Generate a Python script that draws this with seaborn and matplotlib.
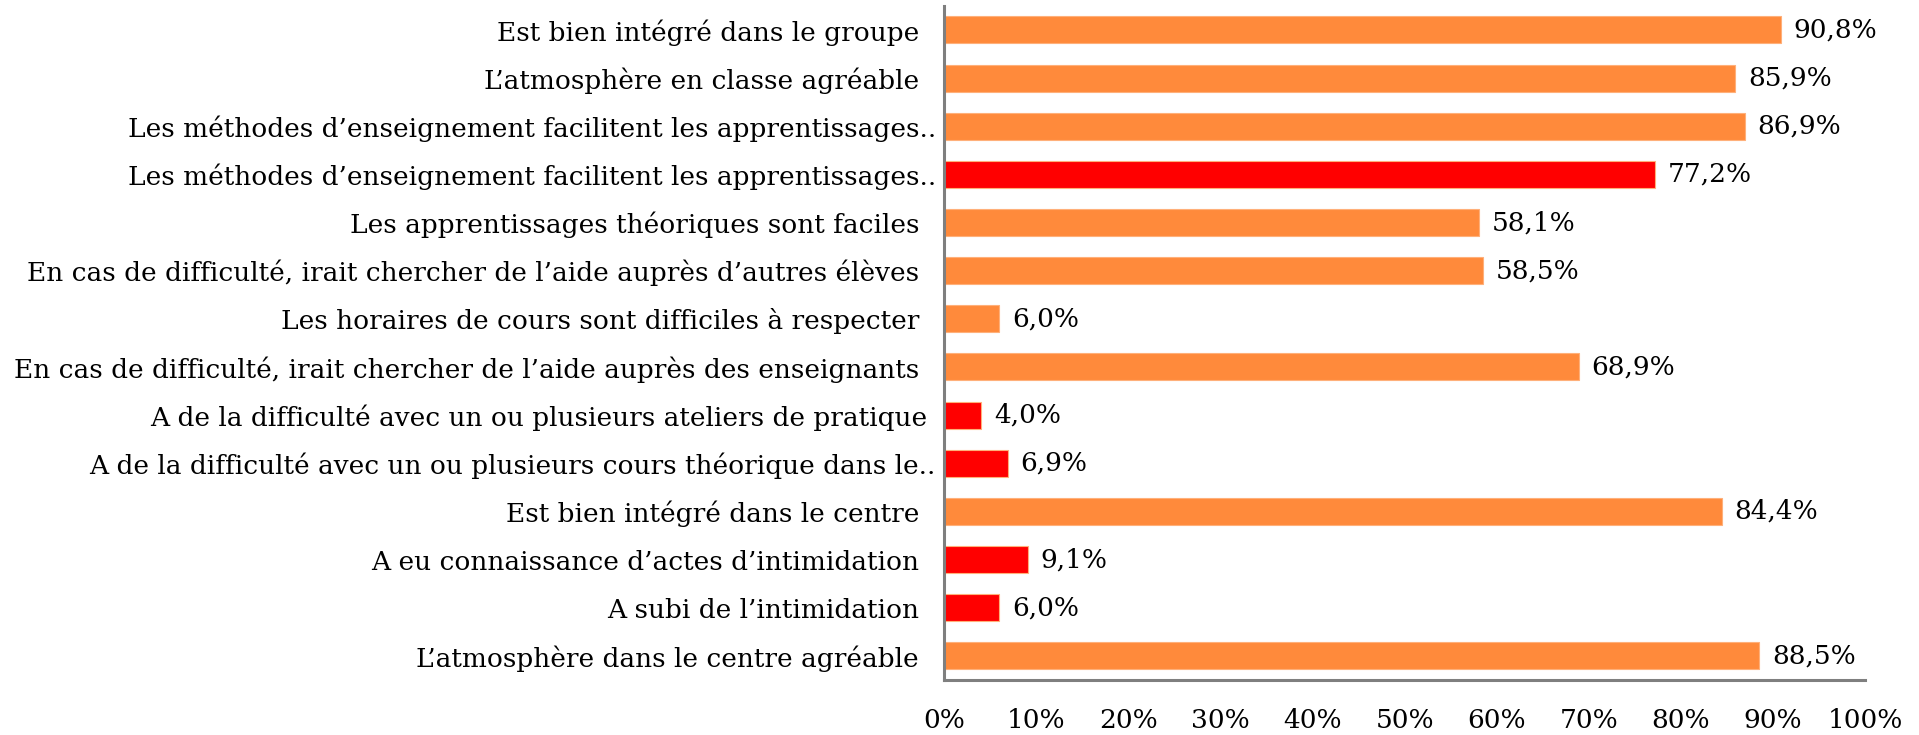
import matplotlib.pyplot as plt
import pandas as pd
import seaborn as sns

# --- data (top to bottom) ---
ITEMS = [
    "Est bien intégré dans le groupe  ",
    "L’atmosphère en classe agréable  ",
    "Les méthodes d’enseignement facilitent les apprentissages..",
    "Les méthodes d’enseignement facilitent les apprentissages..",
    "Les apprentissages théoriques sont faciles  ",
    "En cas de difficulté, irait chercher de l’aide auprès d’autres élèves  ",
    "Les horaires de cours sont difficiles à respecter  ",
    "En cas de difficulté, irait chercher de l’aide auprès des enseignants  ",
    "A de la difficulté avec un ou plusieurs ateliers de pratique ",
    "A de la difficulté avec un ou plusieurs cours théorique dans le..",
    "Est bien intégré dans le centre  ",
    "A eu connaissance d’actes d’intimidation  ",
    "A subi de l’intimidation  ",
    "L’atmosphère dans le centre agréable  ",
]
VALUES = [90.8, 85.9, 86.9, 77.2, 58.1, 58.5, 6.0, 68.9, 4.0, 6.9, 84.4, 9.1, 6.0, 88.5]
GROUP = ["pos", "pos", "pos", "neg", "pos", "pos", "pos", "pos",
         "neg", "neg", "pos", "neg", "neg", "pos"]
XTICKS = [0, 10, 20, 30, 40, 50, 60, 70, 80, 90, 100]

colors = {"pos": "#FF8A3B", "neg": "#FF0000"}
spine_color = "#7F7F7F"
fs = 19

sns.set_style("white")
plt.rcParams["font.family"] = ["DejaVu Serif"]
plt.rcParams["text.color"] = "black"
plt.rcParams["xtick.color"] = "black"
plt.rcParams["ytick.color"] = "black"

df = pd.DataFrame({"pos": range(len(VALUES)), "value": VALUES, "group": GROUP})

fig = plt.figure(figsize=(19.19, 7.35), dpi=100)
ax = fig.add_axes([0.492, 0.075, 0.480, 0.917])

sns.barplot(
    data=df,
    x="value",
    y="pos",
    hue="group",
    palette=colors,
    saturation=1,
    orient="h",
    dodge=False,
    legend=False,
    width=0.56,
    edgecolor="#FFB07A",
    linewidth=0.8,
    ax=ax,
)

# value labels
for p, v in zip(df["pos"], df["value"]):
    ax.text(v + 1.4, p, f"{v:.1f}".replace(".", ",") + "%",
            va="center", ha="left", fontsize=fs, color="black")

ax.set_xlim(0, 100)
ax.set_ylim(13.5, -0.5)
ax.set_xticks(XTICKS)
ax.set_xticklabels([f"{t}%" for t in XTICKS], fontsize=fs)
ax.set_yticks(range(len(ITEMS)))
ax.set_yticklabels(ITEMS, fontsize=fs)
ax.tick_params(axis="x", length=0, pad=20, labelcolor="black")
ax.tick_params(axis="y", length=0, pad=6, labelcolor="black")
ax.set_xlabel("")
ax.set_ylabel("")

sns.despine(ax=ax)
for side in ["left", "bottom"]:
    ax.spines[side].set_color(spine_color)
    ax.spines[side].set_linewidth(2.2)

fig.savefig("out.png", dpi=100)
